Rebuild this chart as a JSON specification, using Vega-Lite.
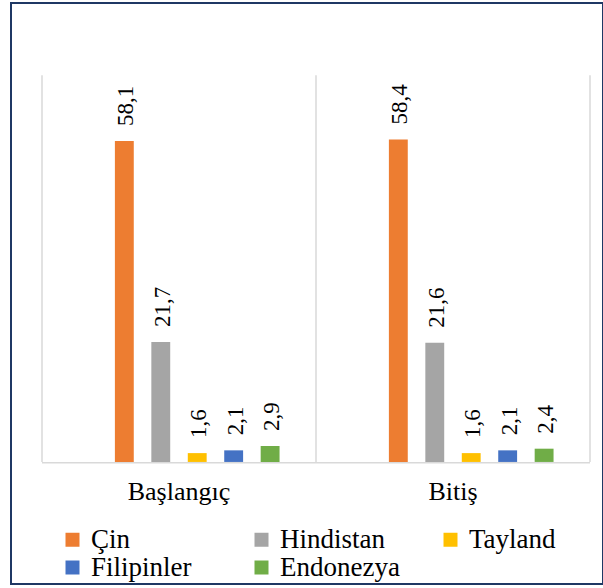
{
  "$schema": "https://vega.github.io/schema/vega-lite/v6.json",
  "width": 592,
  "height": 581,
  "autosize": "none",
  "padding": {"left": 11, "top": 3, "right": 0, "bottom": 4},
  "background": "white",
  "config": {
    "view": {"stroke": "#1F3864", "strokeWidth": 2},
    "font": "Liberation Serif"
  },
  "datasets": {
    "degerler": [
      {"grup": "Başlangıç", "seri": "Çin", "deger": 58.1, "etiket": "58,1"},
      {"grup": "Başlangıç", "seri": "Hindistan", "deger": 21.7, "etiket": "21,7"},
      {"grup": "Başlangıç", "seri": "Tayland", "deger": 1.6, "etiket": "1,6"},
      {"grup": "Başlangıç", "seri": "Filipinler", "deger": 2.1, "etiket": "2,1"},
      {"grup": "Başlangıç", "seri": "Endonezya", "deger": 2.9, "etiket": "2,9"},
      {"grup": "Bitiş", "seri": "Çin", "deger": 58.4, "etiket": "58,4"},
      {"grup": "Bitiş", "seri": "Hindistan", "deger": 21.6, "etiket": "21,6"},
      {"grup": "Bitiş", "seri": "Tayland", "deger": 1.6, "etiket": "1,6"},
      {"grup": "Bitiş", "seri": "Filipinler", "deger": 2.1, "etiket": "2,1"},
      {"grup": "Bitiş", "seri": "Endonezya", "deger": 2.4, "etiket": "2,4"}
    ],
    "gruplar": [
      {"grup": "Başlangıç"},
      {"grup": "Bitiş"}
    ]
  },
  "layer": [
    {
      "data": {"name": "gruplar"},
      "mark": {"type": "rule", "color": "#D9D9D9", "strokeWidth": 1.5},
      "encoding": {
        "x": {"field": "grup", "type": "nominal", "bandPosition": 0},
        "y": {"datum": 70, "type": "quantitative", "scale": {"domain": [-22.1, 83.1], "nice": false, "zero": false}, "axis": null},
        "y2": {"datum": 0}
      }
    },
    {
      "data": {"name": "gruplar"},
      "transform": [{"filter": "datum.grup === 'Bitiş'"}],
      "mark": {"type": "rule", "color": "#D9D9D9", "strokeWidth": 1.5},
      "encoding": {
        "x": {"field": "grup", "type": "nominal", "bandPosition": 1},
        "y": {"datum": 70, "type": "quantitative", "scale": {"domain": [-22.1, 83.1], "nice": false, "zero": false}, "axis": null},
        "y2": {"datum": 0}
      }
    },
    {
      "data": {"name": "gruplar"},
      "mark": {"type": "bar", "color": "#D9D9D9"},
      "encoding": {
        "x": {"field": "grup", "type": "nominal"},
        "y": {"datum": 0, "type": "quantitative", "scale": {"domain": [-22.1, 83.1], "nice": false, "zero": false}, "axis": null},
        "y2": {"datum": -0.27}
      }
    },
    {
      "data": {"name": "degerler"},
      "mark": {"type": "bar"},
      "encoding": {
        "x": {
          "field": "grup",
          "type": "nominal",
          "sort": null,
          "scale": {"domain": ["Başlangıç", "Bitiş"], "paddingInner": 0, "paddingOuter": 0.0803, "align": 0.7045},
          "axis": {
            "title": null,
            "labelAngle": 0,
            "labelAlign": "center",
            "labelBaseline": "top",
            "domain": false,
            "ticks": false,
            "grid": false,
            "labelFont": "Liberation Serif",
            "labelFontSize": 26,
            "labelColor": "#000000",
            "labelPadding": 16,
            "offset": -122
          }
        },
        "xOffset": {
          "field": "seri",
          "type": "nominal",
          "scale": {"domain": ["_", "Çin", "Hindistan", "Tayland", "Filipinler", "Endonezya"], "paddingInner": 0.482, "paddingOuter": 1.18}
        },
        "y": {"field": "deger", "type": "quantitative", "scale": {"domain": [-22.1, 83.1], "nice": false, "zero": false}, "axis": null},
        "y2": {"datum": 0},
        "color": {
          "field": "seri",
          "type": "nominal",
          "scale": {
            "domain": ["Çin", "Hindistan", "Tayland", "Filipinler", "Endonezya"],
            "range": ["#ED7D31", "#A5A5A5", "#FFC000", "#4472C4", "#70AD47"]
          },
          "legend": {
            "title": null,
            "orient": "none",
            "legendX": 48,
            "legendY": 523,
            "direction": "horizontal",
            "columns": 3,
            "gridAlign": "all",
            "columnPadding": 37,
            "rowPadding": 0,
            "padding": 0,
            "symbolType": "square",
            "symbolSize": 196,
            "symbolStrokeWidth": 0,
            "symbolOpacity": 1,
            "labelFont": "Liberation Serif",
            "labelFontSize": 27,
            "labelColor": "#000000",
            "labelOffset": 5,
            "labelLimit": 300
          }
        }
      }
    },
    {
      "data": {"name": "degerler"},
      "mark": {"type": "text", "angle": 270, "align": "left", "baseline": "middle", "dx": 15, "dy": 2, "fontSize": 23, "font": "Liberation Serif", "fill": "#000000"},
      "encoding": {
        "x": {"field": "grup", "type": "nominal"},
        "xOffset": {"field": "seri", "type": "nominal"},
        "y": {"field": "deger", "type": "quantitative", "scale": {"domain": [-22.1, 83.1], "nice": false, "zero": false}, "axis": null},
        "text": {"field": "etiket"}
      }
    }
  ]
}
